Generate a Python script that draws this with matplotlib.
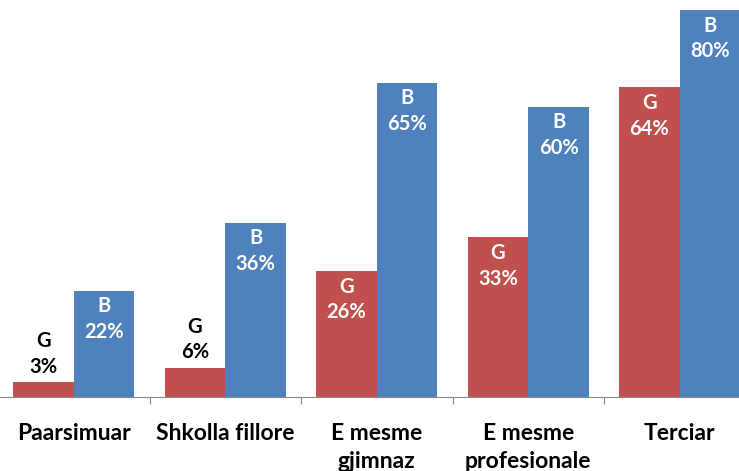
import numpy as np
import matplotlib.pyplot as plt

# Niveli i arsimit: G (vajza) dhe B (djem)
kategorite = ['Paarsimuar', 'Shkolla fillore', 'E mesme\ngjimnaz',
              'E mesme\nprofesionale', 'Terciar']
vlerat_G = [3, 6, 26, 33, 64]
vlerat_B = [22, 36, 65, 60, 80]

kuq = '#C0504D'
blu = '#4F81BD'
fnt = 'Lato'

fig = plt.figure(figsize=(7.39, 4.71), dpi=100)
ax = fig.add_axes([-2/739, 1 - 397/471, 757.5/739, 387/471])

x = np.arange(len(kategorite))
w = 0.4
ax.bar(x - w/2, vlerat_G, w, color=kuq)
ax.bar(x + w/2, vlerat_B, w, color=blu)

#%% etiketat mbi/ne shtylla
def etiketo(xp, v, shkronja):
    if v < 10:
        ax.annotate(f'{shkronja}\n{v}%', (xp, v), xytext=(0, 4),
                    textcoords='offset points', ha='center', va='bottom',
                    color='black', fontsize=14.5, fontweight='bold',
                    family=fnt, linespacing=1.35)
    else:
        ax.annotate(f'{shkronja}\n{v}%', (xp, v), xytext=(0, -4),
                    textcoords='offset points', ha='center', va='top',
                    color='white', fontsize=14.5, fontweight='bold',
                    family=fnt, linespacing=1.35)

for i in range(len(x)):
    etiketo(x[i] - w/2, vlerat_G[i], 'G')
    etiketo(x[i] + w/2, vlerat_B[i], 'B')

ax.set_xlim(-0.5, len(x) - 0.5)
ax.set_ylim(0, 80)
for s in ['top', 'right', 'left']:
    ax.spines[s].set_visible(False)
ax.spines['bottom'].set_color('#888888')
ax.set_yticks([])

# shenjat ndermjet kategorive, etiketat ne qender
ax.set_xticks(np.arange(len(x) + 1) - 0.5)
ax.set_xticklabels([])
ax.tick_params(axis='x', which='major', length=5, color='#888888', direction='out')
ax.set_xticks(x, minor=True)
ax.set_xticklabels(kategorite, minor=True, fontsize=16.5, fontweight='bold',
                   family=fnt, linespacing=1.4, va='top')
ax.tick_params(axis='x', which='minor', length=0, pad=19)

fig.savefig('out.png', dpi=100)
